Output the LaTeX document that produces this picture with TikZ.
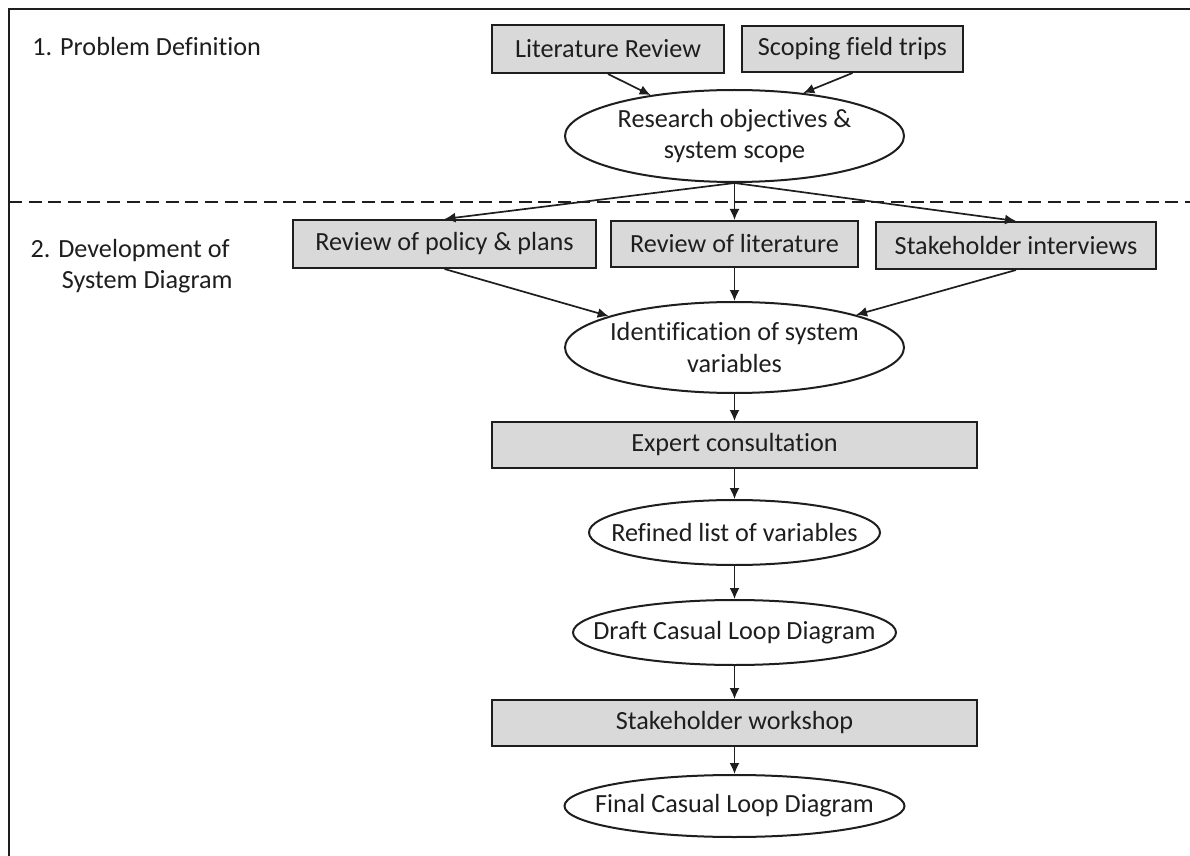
\documentclass[tikz,border=0pt]{standalone}
\usepackage{fontspec}
\setmainfont{Carlito}[Ligatures=NoCommon]
\usetikzlibrary{arrows.meta,shapes.geometric}
\definecolor{boxfill}{RGB}{217,217,217}
\definecolor{ink}{RGB}{30,30,30}
\begin{document}
\begin{tikzpicture}[x=0.5pt,y=-0.5pt,
  every node/.style={font=\fontsize{13.1}{15.7}\selectfont, text=ink},
  procbox/.style={draw=ink, line width=1pt, fill=boxfill, rectangle, inner sep=0pt},
  outcome/.style={draw=ink, line width=1pt, ellipse, inner xsep=-40pt, inner ysep=-20pt, align=center, fill=white},
  flow/.style={draw=ink, line width=0.85pt, -{Latex[length=5.5pt,width=5pt]}},
  seclabel/.style={inner sep=0pt, anchor=base east},
]
\useasboundingbox (0,0) rectangle (1190,856);
% frame and separator
\draw[ink, line width=1pt] (9,856) -- (9,9) -- (1190,9);
\draw[ink, line width=0.9pt, dash pattern=on 6.5pt off 3.3pt] (9,202) -- (1190,202);

% section labels
\node[inner sep=0pt, anchor=base west] (lab1) at (32,56) {1. Problem Definition};
\node[seclabel] (lab2a) at (230,257) {2. Development of};
\node[seclabel] (lab2b) at (233,288) {System Diagram};

% nodes
\node[procbox, minimum width=116pt, minimum height=24pt] (litrev) at (608,49) {Literature Review};
\node[procbox, minimum width=110.5pt, minimum height=23pt] (scoping) at (852.5,49) {Scoping field trips};
\node[outcome, minimum width=169.5pt, minimum height=46pt] (research) at (734.5,136) {Research objectives \&\\system scope};
\node[procbox, minimum width=151.5pt, minimum height=24pt] (policy) at (444.5,244) {Review of policy \& plans};
\node[procbox, minimum width=123.5pt, minimum height=23pt] (revlit) at (734.5,244) {Review of literature};
\node[procbox, minimum width=140pt, minimum height=23.5pt] (stake) at (1016,245.5) {Stakeholder interviews};
\node[outcome, minimum width=169.5pt, minimum height=45.5pt] (ident) at (734.5,347.5) {Identification of system\\variables};
\node[procbox, minimum width=242.5pt, minimum height=23pt] (expert) at (734.5,445) {Expert consultation};
\node[outcome, minimum width=145.5pt, minimum height=32.5pt] (refined) at (734.5,532.5) {Refined list of variables};
\node[outcome, minimum width=161.5pt, minimum height=32.5pt] (draft) at (734.5,632.5) {Draft Casual Loop Diagram};
\node[procbox, minimum width=242.5pt, minimum height=23pt] (workshop) at (734.5,723) {Stakeholder workshop};
\node[outcome, minimum width=170pt, minimum height=31pt] (final) at (734.5,806) {Final Casual Loop Diagram};

% connectors
\draw[flow] (litrev.south) -- (research.154);
\draw[flow] (scoping.south) -- (research.32);
\draw[flow] (research.south) -- (policy.north);
\draw[flow] (research.south) -- (revlit.north);
\draw[flow] (research.south) -- (stake.north);
\draw[flow] (policy.south) -- (ident.166);
\draw[flow] (revlit.south) -- (ident.north);
\draw[flow] (stake.south) -- (ident.15);
\draw[flow] (ident.south) -- (expert.north);
\draw[flow] (expert.south) -- (refined.north);
\draw[flow] (refined.south) -- (draft.north);
\draw[flow] (draft.south) -- (workshop.north);
\draw[flow] (workshop.south) -- (final.north);
\end{tikzpicture}
\end{document}
